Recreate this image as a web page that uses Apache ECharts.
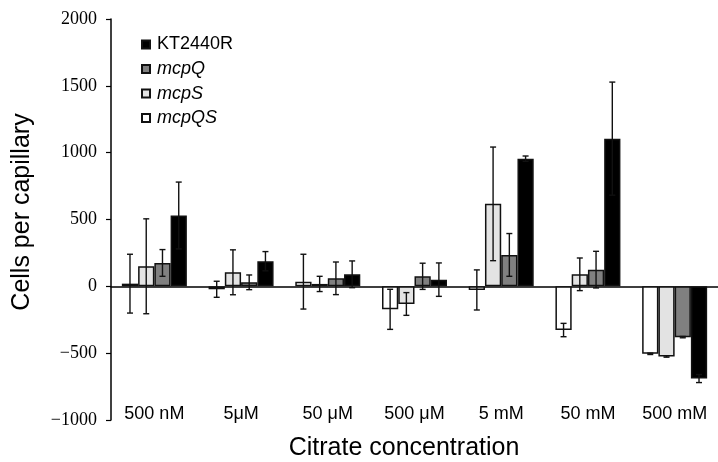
<!DOCTYPE html>
<html>
<head>
<meta charset="utf-8">
<script src="https://cdn.jsdelivr.net/npm/echarts@6/dist/echarts.min.js"></script>
<style>html,body{margin:0;padding:0;background:#fff;}#chart{width:718px;height:462px;}</style>
</head>
<body>
<div id="chart"></div>
<script>
const categories = ['500 nM', '5\u03bcM', '50 \u03bcM', '500 \u03bcM', '5 mM', '50 mM', '500 mM'];
const seriesNames = ['mcpQS', 'mcpS', 'mcpQ', 'KT2440R'];
const mcpQS = [20, -22, 35, -172, -27, -327, -505];
const mcpQSErr = [220, 60, 205, 150, 150, 50, 5];
const mcpS = [150, 105, 18, -132, 617, 90, -525];
const mcpSErr = [355, 168, 57, 85, 425, 122, 5];
const mcpQ = [175, 30, 60, 75, 235, 125, -380];
const mcpQErr = [100, 55, 122, 98, 160, 137, 5];
const KT2440R = [530, 188, 90, 50, 955, 1105, -690];
const KT2440RErr = [250, 72, 100, 125, 20, 423, 30];
const yTicks = [-1000, -500, 0, 500, 1000, 1500, 2000];

const values = [mcpQS, mcpS, mcpQ, KT2440R];
const errors = [mcpQSErr, mcpSErr, mcpQErr, KT2440RErr];
const colors = ['#ffffff', '#e3e3e3', '#808080', '#000000'];
const BAR_W = 16.25;

const chart = echarts.init(document.getElementById('chart'), null, {renderer: 'canvas'});

const barSeries = seriesNames.map((name, i) => ({
  name: name,
  type: 'bar',
  xAxisIndex: 0,
  yAxisIndex: 0,
  data: values[i],
  barWidth: BAR_W,
  barGap: '0%',
  itemStyle: {color: colors[i], borderColor: '#111', borderWidth: 1.5},
  emphasis: {disabled: true},
  animation: false,
  z: 2
}));

const errData = [];
seriesNames.forEach((name, s) => {
  values[s].forEach((v, c) => errData.push([c, v, errors[s][c], s]));
});

const errSeries = {
  type: 'custom',
  xAxisIndex: 0,
  yAxisIndex: 0,
  data: errData,
  z: 5,
  silent: true,
  animation: false,
  renderItem: function (params, api) {
    const c = api.value(0), v = api.value(1), e = api.value(2), s = api.value(3);
    const off = (s - 1.5) * BAR_W;
    const top = api.coord([c, v + e]);
    const bot = api.coord([c, v - e]);
    const x = top[0] + off;
    const cap = 3;
    const st = {stroke: '#111', lineWidth: 1.4};
    return {
      type: 'group',
      children: [
        {type: 'line', shape: {x1: x, y1: top[1], x2: x, y2: bot[1]}, style: st},
        {type: 'line', shape: {x1: x - cap, y1: top[1], x2: x + cap, y2: top[1]}, style: st},
        {type: 'line', shape: {x1: x - cap, y1: bot[1], x2: x + cap, y2: bot[1]}, style: st}
      ]
    };
  }
};

const legendOrder = ['KT2440R', 'mcpQ', 'mcpS', 'mcpQS'];

const option = {
  backgroundColor: '#ffffff',
  animation: false,
  grid: {left: 111, top: 19, width: 611, height: 401, containLabel: false},
  legend: {
    orient: 'vertical',
    left: 136,
    top: 30.5,
    itemWidth: 8,
    itemHeight: 8,
    itemGap: 6.5,
    icon: 'rect',
    selectedMode: false,
    textStyle: {fontFamily: 'Liberation Sans', fontSize: 18, color: '#000', padding: [0, 0, 0, 2]},
    data: legendOrder.map(n => n === 'KT2440R'
      ? {name: n}
      : {name: n, textStyle: {fontStyle: 'italic'}})
  },
  xAxis: [
    {
      type: 'category',
      data: categories,
      position: 'bottom',
      axisLine: {onZero: true, lineStyle: {color: '#000', width: 1.5}},
      axisTick: {show: false},
      axisLabel: {show: false},
      splitLine: {show: false}
    },
    {
      type: 'category',
      data: categories,
      position: 'bottom',
      axisLine: {show: false, onZero: false},
      axisTick: {show: false},
      axisLabel: {show: true, inside: true, margin: -3, fontFamily: 'Liberation Sans', fontSize: 18, color: '#000'},
      splitLine: {show: false}
    }
  ],
  yAxis: {
    type: 'value',
    min: yTicks[0],
    max: yTicks[yTicks.length - 1],
    interval: 500,
    axisLine: {show: true, onZero: false, lineStyle: {color: '#000', width: 1.5}},
    axisTick: {show: true, inside: false, length: 5, lineStyle: {color: '#000', width: 1.2}},
    axisLabel: {
      margin: 14,
      fontFamily: 'Liberation Serif',
      fontSize: 18,
      color: '#000',
      formatter: v => String(v).replace('-', '\u2212')
    },
    splitLine: {show: false}
  },
  graphic: [
    {
      type: 'text',
      x: 22, y: 212,
      rotation: Math.PI / 2,
      style: {text: 'Cells per capillary', fontFamily: 'Liberation Sans', fontSize: 25, fill: '#000', align: 'center', verticalAlign: 'middle'}
    },
    {
      type: 'text',
      x: 404, y: 448,
      style: {text: 'Citrate concentration', fontFamily: 'Liberation Sans', fontSize: 25, fill: '#000', align: 'center', verticalAlign: 'middle'}
    }
  ],
  series: barSeries.concat([errSeries])
};

chart.setOption(option);
</script>
</body>
</html>
